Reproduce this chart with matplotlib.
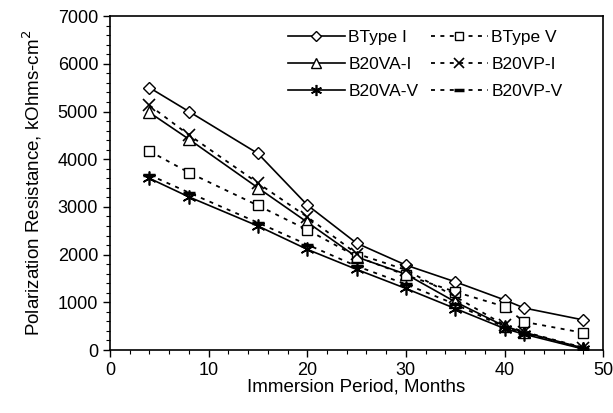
import matplotlib
matplotlib.use("Agg")
import matplotlib.pyplot as plt

plt.rcParams['font.family'] = ['Liberation Sans', 'DejaVu Sans']
plt.rcParams['font.size'] = 13

# immersion period, months
months = [4, 8, 15, 20, 25, 30, 35, 40, 42, 48]

# polarization resistance, kOhms-cm2
btype_i = [5500, 5000, 4120, 3040, 2240, 1780, 1430, 1050, 880, 630]
btype_v = [4170, 3720, 3030, 2520, 1960, 1570, 1220, 910, 590, 360]
b20va_i = [4980, 4420, 3400, 2680, 1950, 1590, 1010, 500, 370, 40]
b20vp_i = [5130, 4510, 3500, 2790, 2020, 1680, 1120, 520, 380, 50]
b20va_v = [3600, 3210, 2600, 2110, 1690, 1290, 870, 450, 330, 20]
b20vp_v = [3670, 3300, 2670, 2210, 1760, 1380, 960, 480, 350, 30]

fig = plt.figure(figsize=(6.13, 4.13), dpi=100)
ax = fig.add_axes([0.1794, 0.1525, 0.8046, 0.8085])

dot = (0, (2.2, 3.0))
asterisk = (6, 2, 0)

ax.plot(months, btype_i, '-', color='black', lw=1.2, marker='D', ms=6.5,
        mfc='white', mec='black', mew=1.0, label='BType I')
ax.plot(months, b20va_i, '-', color='black', lw=1.2, marker='^', ms=8.5,
        mfc='white', mec='black', mew=1.0, label='B20VA-I')
ax.plot(months, b20va_v, '-', color='black', lw=1.2, marker=asterisk, ms=10,
        mfc='black', mec='black', mew=1.2, label='B20VA-V')
ax.plot(months, btype_v, linestyle=dot, color='black', lw=1.3, marker='s', ms=7.5,
        mfc='white', mec='black', mew=1.0, label='BType V')
ax.plot(months, b20vp_i, linestyle=dot, color='black', lw=1.3, marker='x', ms=8.5,
        mec='black', mew=1.2, label='B20VP-I')
ax.plot(months, b20vp_v, linestyle=dot, color='black', lw=1.3, marker='_', ms=9,
        mec='black', mew=2.5, label='B20VP-V')

ax.set_xlim(0, 50)
ax.set_ylim(0, 7000)
ax.set_xticks(range(0, 51, 10))
ax.set_xticks(range(0, 51, 2), minor=True)
ax.set_yticks(range(0, 7001, 1000))
ax.set_yticks(range(0, 7001, 200), minor=True)
ax.tick_params(which='major', direction='out', length=5, width=1.0, labelsize=13)
ax.tick_params(which='minor', direction='out', length=3, width=0.8)
for s in ax.spines.values():
    s.set_linewidth(1.2)

ax.set_xlabel('Immersion Period, Months', fontsize=13.5, labelpad=0)
ax.set_ylabel('Polarization Resistance, kOhms-cm$^{2}$', fontsize=13.5, labelpad=10)

ax.legend(ncol=2, frameon=False, loc='upper left',
          bbox_to_anchor=(0.36, 0.96), borderpad=0, borderaxespad=0,
          handlelength=3.3, handletextpad=0.2, columnspacing=0.7,
          labelspacing=0.7, fontsize=12.5, markerscale=0.8)

fig.savefig('out.png', dpi=100)
